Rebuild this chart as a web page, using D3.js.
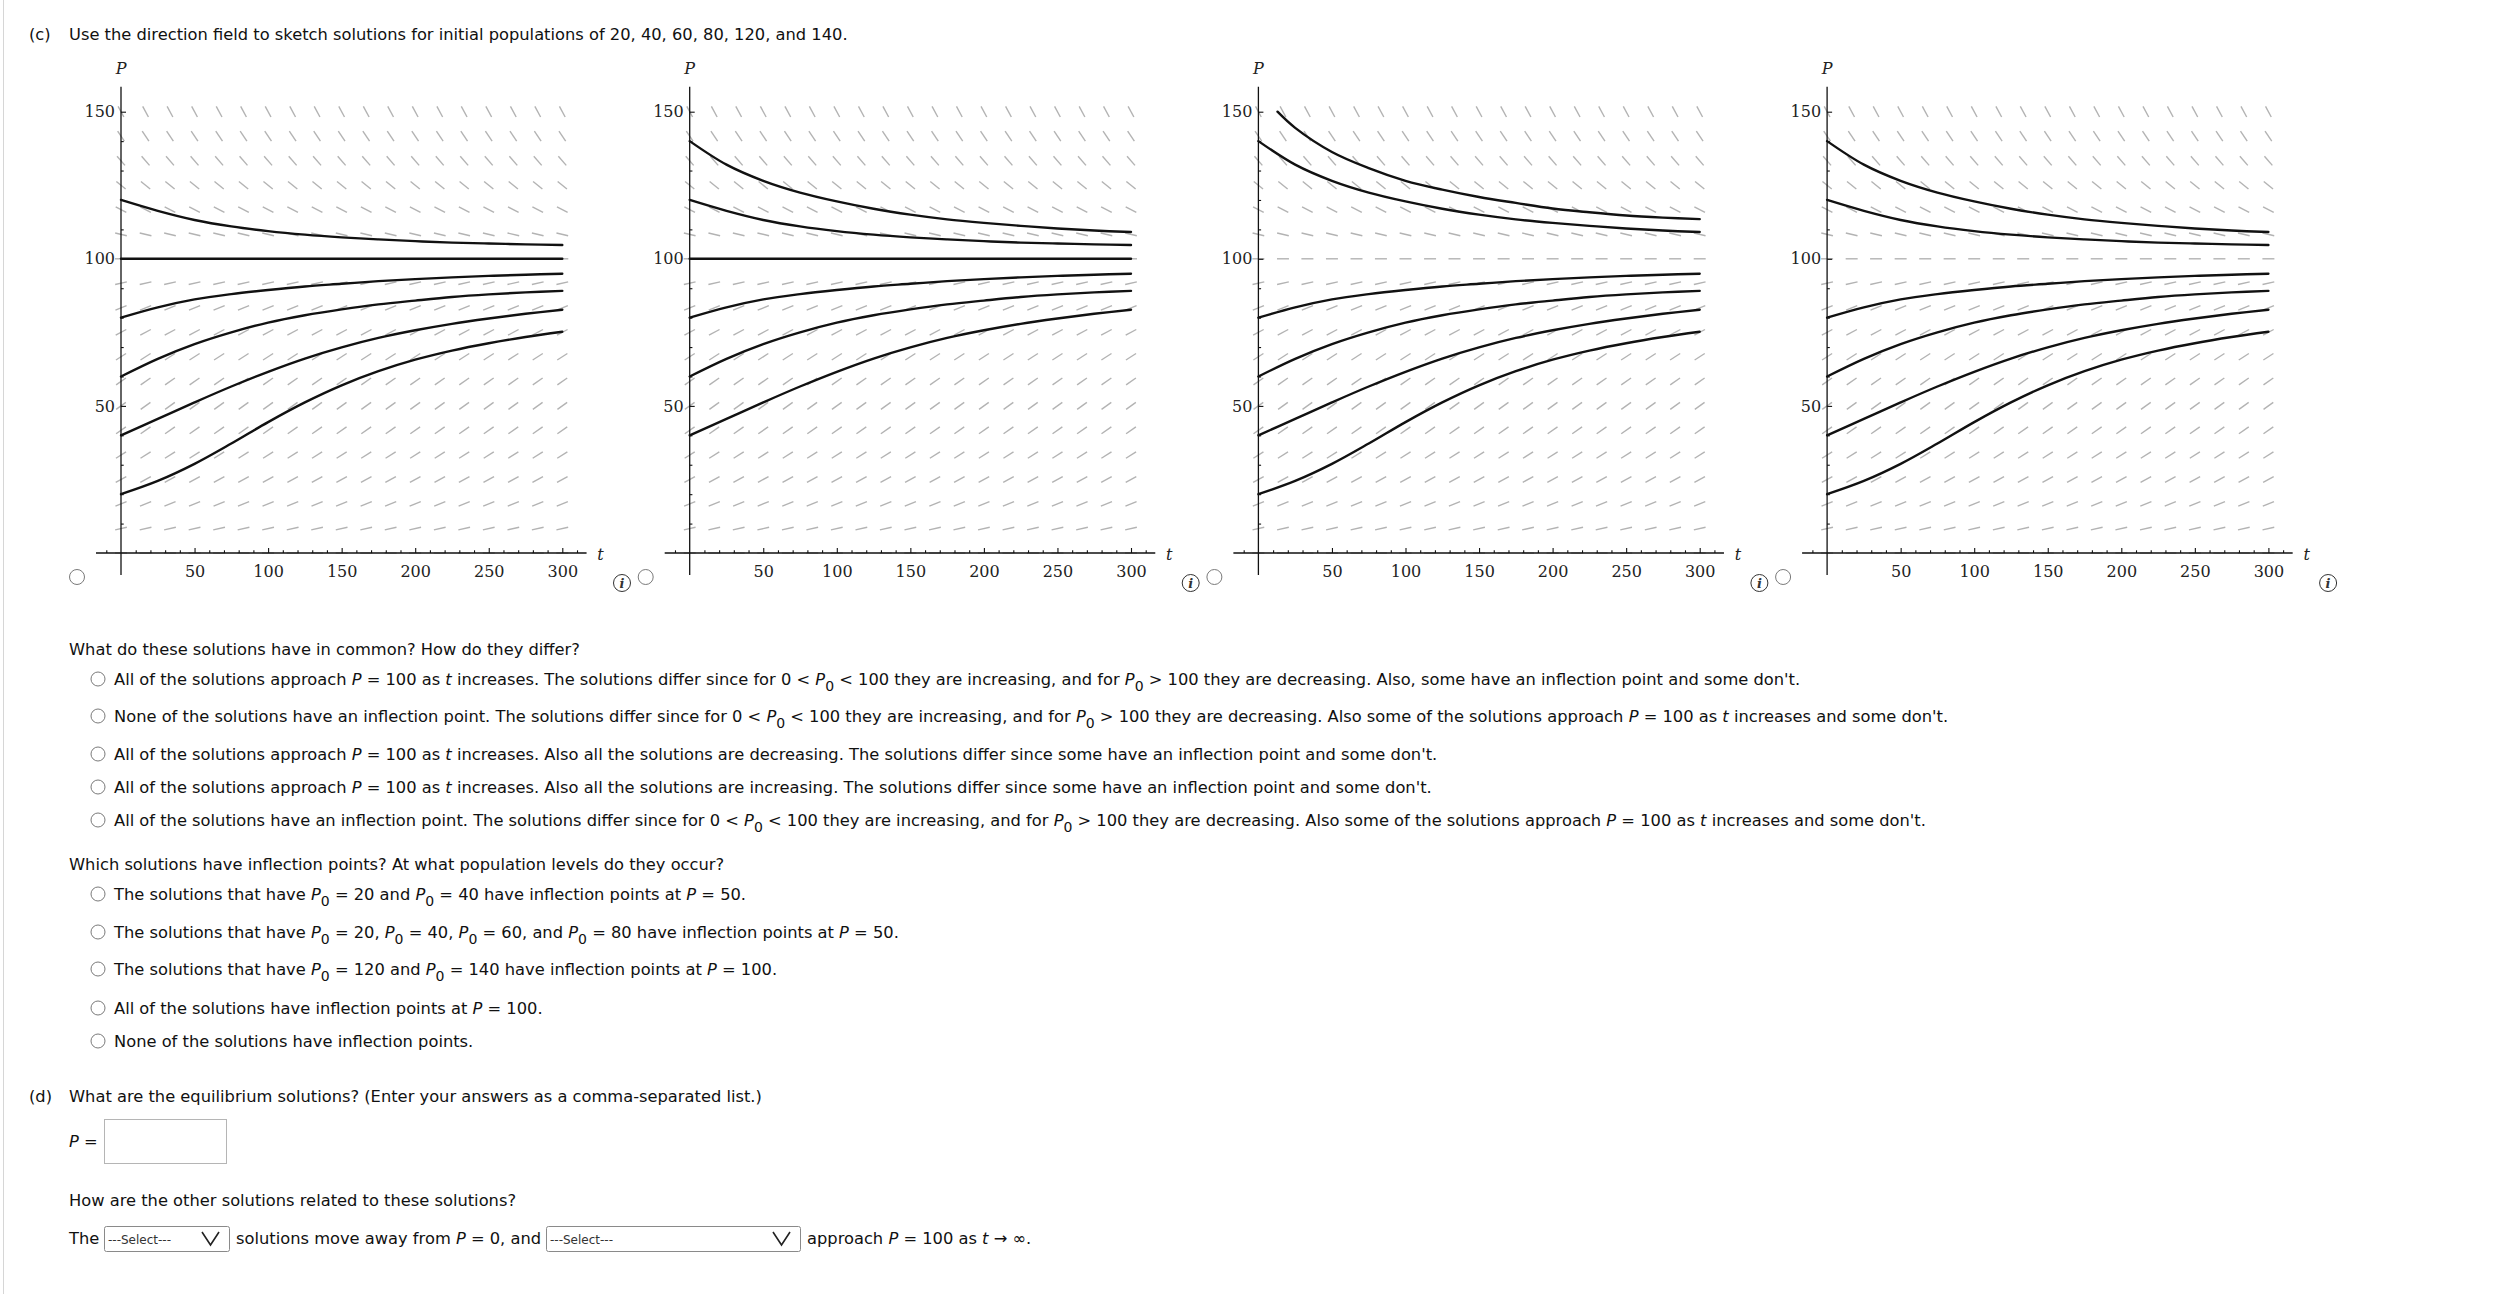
<!DOCTYPE html>
<html><head><meta charset="utf-8">
<script src="https://cdn.jsdelivr.net/npm/d3@7"></script>
<style>
html,body{margin:0;padding:0;background:#fff;}
svg{display:block;}
.txt{font-family:"DejaVu Sans",Verdana,sans-serif;font-size:16.3px;fill:#111;white-space:pre;}
.ser{font-family:"DejaVu Serif",serif;font-size:16px;fill:#222;}
</style></head><body>
<svg id="page" width="2510" height="1294"></svg>
<script>
// ---------------- data ----------------
const tSamples = [0, 25, 50, 75, 100, 125, 150, 175, 200, 225, 250, 275, 300];
const solP20  = [20, 24.5, 30.3, 37.2, 44.5, 51.2, 57, 61.8, 65.7, 68.8, 71.3, 73.4, 75.2];
const solP40  = [40, 45.6, 51.2, 56.6, 61.6, 66.1, 69.9, 73.1, 75.7, 77.9, 79.7, 81.3, 82.7];
const solP60  = [60, 66, 71, 75, 78.3, 80.8, 82.8, 84.5, 85.8, 87, 87.9, 88.6, 89.1];
const solP80  = [80, 83.5, 86.2, 88, 89.4, 90.6, 91.5, 92.4, 93.1, 93.7, 94.2, 94.6, 94.9];
const solP100 = [100, 100, 100, 100, 100, 100, 100, 100, 100, 100, 100, 100, 100];
const solP120 = [120, 116.3, 113.2, 111, 109.4, 108.2, 107.3, 106.6, 106, 105.5, 105.2, 104.9, 104.7];
const solP140 = [140, 132, 126.5, 122.5, 119.5, 117, 115, 113.4, 112.2, 111.2, 110.3, 109.6, 109.1];
const tSamples150 = [13, 25, 50, 75, 100, 125, 150, 175, 200, 225, 250, 275, 300];
const solP150 = [150, 144.5, 136.3, 130.8, 126.5, 123.5, 121, 119, 117.1, 115.8, 114.7, 114, 113.5];

// which solution curves each of the four answer graphs shows
const chartCurves = [
  ["P120", "P100", "P80", "P60", "P40", "P20"],
  ["P140", "P120", "P100", "P80", "P60", "P40"],
  ["P150", "P140", "P80", "P60", "P40", "P20"],
  ["P140", "P120", "P80", "P60", "P40", "P20"]
];

// direction field grid and slopes dP/dt per row
const fieldT = [0, 16.7, 33.3, 50, 66.7, 83.3, 100, 116.7, 133.3, 150, 166.7, 183.3, 200, 216.7, 233.3, 250, 266.7, 283.3, 300];
const fieldP = [0, 8.3, 16.7, 25, 33.3, 41.7, 50, 58.3, 66.7, 75, 83.3, 91.7, 100, 108.3, 116.7, 125, 133.3, 141.7, 150];
const fieldSlope = [0, 0.11, 0.2, 0.27, 0.32, 0.35, 0.36, 0.35, 0.32, 0.27, 0.2, 0.11, 0, -0.12, -0.26, -0.41, -0.57, -0.74, -0.92];

const xMajorTicks = [50, 100, 150, 200, 250, 300];
const xMinorTicks = [-10, 10, 20, 30, 40, 60, 70, 80, 90, 110, 120, 130, 140, 160, 170, 180, 190, 210, 220, 230, 240, 260, 270, 280, 290, 310];
const yMajorTicks = [50, 100, 150];
const yMinorTicks = [10, 20, 30, 40, 60, 70, 80, 90, 110, 120, 130, 140];

const titleLine = "Use the direction field to sketch solutions for initial populations of 20, 40, 60, 80, 120, and 140.";
const question1 = "What do these solutions have in common? How do they differ?";
const options1 = [
  "All of the solutions approach *P* = 100 as *t* increases. The solutions differ since for 0 < *P*_0_ < 100 they are increasing, and for *P*_0_ > 100 they are decreasing. Also, some have an inflection point and some don't.",
  "None of the solutions have an inflection point. The solutions differ since for 0 < *P*_0_ < 100 they are increasing, and for *P*_0_ > 100 they are decreasing. Also some of the solutions approach *P* = 100 as *t* increases and some don't.",
  "All of the solutions approach *P* = 100 as *t* increases. Also all the solutions are decreasing. The solutions differ since some have an inflection point and some don't.",
  "All of the solutions approach *P* = 100 as *t* increases. Also all the solutions are increasing. The solutions differ since some have an inflection point and some don't.",
  "All of the solutions have an inflection point. The solutions differ since for 0 < *P*_0_ < 100 they are increasing, and for *P*_0_ > 100 they are decreasing. Also some of the solutions approach *P* = 100 as *t* increases and some don't."
];
const question2 = "Which solutions have inflection points? At what population levels do they occur?";
const options2 = [
  "The solutions that have *P*_0_ = 20 and *P*_0_ = 40 have inflection points at *P* = 50.",
  "The solutions that have *P*_0_ = 20, *P*_0_ = 40, *P*_0_ = 60, and *P*_0_ = 80 have inflection points at *P* = 50.",
  "The solutions that have *P*_0_ = 120 and *P*_0_ = 140 have inflection points at *P* = 100.",
  "All of the solutions have inflection points at *P* = 100.",
  "None of the solutions have inflection points."
];
const partD = "What are the equilibrium solutions? (Enter your answers as a comma-separated list.)";
const relQuestion = "How are the other solutions related to these solutions?";

// ---------------- drawing ----------------
const svg = d3.select("#page");
svg.append("line").attr("x1", 3.5).attr("x2", 3.5).attr("y1", 0).attr("y2", 1294)
  .attr("stroke", "#d6d6d6").attr("stroke-width", 1);

const solutions = {P20: solP20, P40: solP40, P60: solP60, P80: solP80, P100: solP100, P120: solP120, P140: solP140};

const W = 441.3, H = 441.3, originY = 553;
const chartLeft = 121, chartGap = 568.7;
const x = d3.scaleLinear().domain([0, 300]).range([0, W]);
const y = d3.scaleLinear().domain([0, 150]).range([0, -H]);
const pxRatio = (H / 150) / (W / 300);
const line = d3.line().x(d => x(d[0])).y(d => y(d[1])).curve(d3.curveCatmullRom.alpha(0.5));

chartCurves.forEach((names, ci) => {
  const ox = chartLeft + ci * chartGap;
  const g = svg.append("g").attr("transform", `translate(${ox},${originY})`);

  // direction field
  const marks = [];
  fieldP.forEach((p, ri) => fieldT.forEach(t => marks.push({t, p, s: fieldSlope[ri]})));
  g.append("g").selectAll("line").data(marks).join("line")
    .attr("x1", d => x(d.t) - 6 * Math.cos(Math.atan(d.s * pxRatio)))
    .attr("x2", d => x(d.t) + 6 * Math.cos(Math.atan(d.s * pxRatio)))
    .attr("y1", d => y(d.p) + 6 * Math.sin(Math.atan(d.s * pxRatio)))
    .attr("y2", d => y(d.p) - 6 * Math.sin(Math.atan(d.s * pxRatio)))
    .attr("stroke", "#b3b3b3").attr("stroke-width", 1.4);

  // axes lines
  g.append("line").attr("x1", x(-17)).attr("x2", x(316.5)).attr("y1", 0).attr("y2", 0)
    .attr("stroke", "#111").attr("stroke-width", 1.3);
  g.append("line").attr("x1", 0).attr("x2", 0).attr("y1", y(-7.5)).attr("y2", y(158.5))
    .attr("stroke", "#111").attr("stroke-width", 1.3);

  // x axis ticks
  const xMinor = d3.axisBottom(x).tickValues(xMinorTicks).tickSizeInner(-2.7).tickSizeOuter(0).tickFormat("");
  const xMajor = d3.axisBottom(x).tickValues(xMajorTicks).tickSizeInner(-5).tickSizeOuter(0).tickPadding(13);
  [xMinor, xMajor].forEach(ax => {
    const a = g.append("g").call(ax);
    a.select(".domain").remove();
    a.selectAll(".tick line").attr("stroke", "#111").attr("stroke-width", 1.1);
    a.selectAll(".tick text").attr("class", "ser").attr("font-family", null).attr("font-size", null).attr("fill", null);
  });
  // y axis ticks
  const yMinor = d3.axisLeft(y).tickValues(yMinorTicks).tickSizeInner(-2.7).tickSizeOuter(0).tickFormat("");
  const yMajor = d3.axisLeft(y).tickValues(yMajorTicks).tickSizeInner(-5).tickSizeOuter(0).tickPadding(6);
  [yMinor, yMajor].forEach(ax => {
    const a = g.append("g").call(ax);
    a.select(".domain").remove();
    a.selectAll(".tick line").attr("stroke", "#111").attr("stroke-width", 1.1);
    a.selectAll(".tick text").attr("class", "ser").attr("font-family", null).attr("font-size", null).attr("fill", null);
  });

  // solution curves
  names.forEach(n => {
    const pts = n === "P150" ? tSamples150.map((t, i) => [t, solP150[i]])
                             : tSamples.map((t, i) => [t, solutions[n][i]]);
    g.append("path").attr("d", line(pts)).attr("fill", "none")
      .attr("stroke", "#111").attr("stroke-width", 2.4).attr("stroke-linecap", "round");
  });

  // axis labels
  g.append("text").attr("class", "ser").attr("x", 0).attr("y", y(165) + 6)
    .attr("text-anchor", "middle").attr("font-style", "italic").text("P");
  g.append("text").attr("class", "ser").attr("x", x(326)).attr("y", 7)
    .attr("text-anchor", "middle").attr("font-style", "italic").text("t");

  // radio to the left of the graph
  svg.append("circle").attr("cx", ox - 44).attr("cy", 577).attr("r", 7.5)
    .attr("fill", "#fff").attr("stroke", "#7a7a7a").attr("stroke-width", 1);
  // info icon
  const ix = ox + 501, iy = 583;
  svg.append("circle").attr("cx", ix).attr("cy", iy).attr("r", 8.5)
    .attr("fill", "#fff").attr("stroke", "#333").attr("stroke-width", 1);
  svg.append("text").attr("x", ix).attr("y", iy + 5).attr("text-anchor", "middle")
    .attr("font-family", "DejaVu Serif").attr("font-size", 13).attr("font-style", "italic")
    .attr("font-weight", "bold").attr("fill", "#333").text("i");
});

// rich text helper: *italic*, _subscript_
function richText(x0, yBase, str) {
  const t = svg.append("text").attr("class", "txt").attr("x", x0).attr("y", yBase);
  const parts = str.split(/(\*[^*]+\*|_[^_]+_)/).filter(s => s.length);
  let lowered = false;
  parts.forEach(p => {
    const ts = t.append("tspan");
    if (p[0] === "*") { ts.attr("font-style", "italic").text(p.slice(1, -1)); if (lowered) { ts.attr("dy", -6); lowered = false; } }
    else if (p[0] === "_") { ts.attr("font-size", 14).attr("dy", 6).text(p.slice(1, -1)); lowered = true; }
    else { ts.text(p); if (lowered) { ts.attr("dy", -6); lowered = false; } }
  });
  return t;
}
function radio(cx, cy) {
  svg.append("circle").attr("cx", cx).attr("cy", cy).attr("r", 7)
    .attr("fill", "#fff").attr("stroke", "#7a7a7a").attr("stroke-width", 1);
}

richText(29, 39.5, "(c)");
richText(69, 39.5, titleLine);

richText(69, 655, question1);
const opt1Y = [679, 716, 754, 787, 820];
options1.forEach((s, i) => { radio(98, opt1Y[i]); richText(114, opt1Y[i] + 6, s); });

richText(69, 870, question2);
const opt2Y = [894, 932, 969, 1008, 1041];
options2.forEach((s, i) => { radio(98, opt2Y[i]); richText(114, opt2Y[i] + 6, s); });

richText(29, 1102, "(d)");
richText(69, 1102, partD);
richText(69, 1147, "*P* =");
svg.append("rect").attr("x", 104.5).attr("y", 1119.5).attr("width", 122).attr("height", 44)
  .attr("fill", "#fff").attr("stroke", "#b5b5b5").attr("stroke-width", 1);

richText(69, 1206, relQuestion);

function selectBox(x0, x1, label) {
  svg.append("rect").attr("x", x0 + 0.5).attr("y", 1226.5).attr("width", x1 - x0).attr("height", 25)
    .attr("rx", 2).attr("fill", "#fff").attr("stroke", "#8a8a8a").attr("stroke-width", 1);
  svg.append("text").attr("x", x0 + 4).attr("y", 1243.5).attr("font-family", "DejaVu Sans")
    .attr("font-size", 12).attr("fill", "#333").text(label);
  svg.append("path").attr("d", `M${x1 - 27},${1232} L${x1 - 18.5},${1245} L${x1 - 10},${1232}`)
    .attr("fill", "none").attr("stroke", "#222").attr("stroke-width", 1.6);
}
richText(69, 1244, "The");
selectBox(104, 229, "---Select---");
richText(236, 1244, "solutions move away from *P* = 0, and");
selectBox(546, 800, "---Select---");
richText(807, 1244, "approach *P* = 100 as *t* → ∞.");
</script>
</body></html>
